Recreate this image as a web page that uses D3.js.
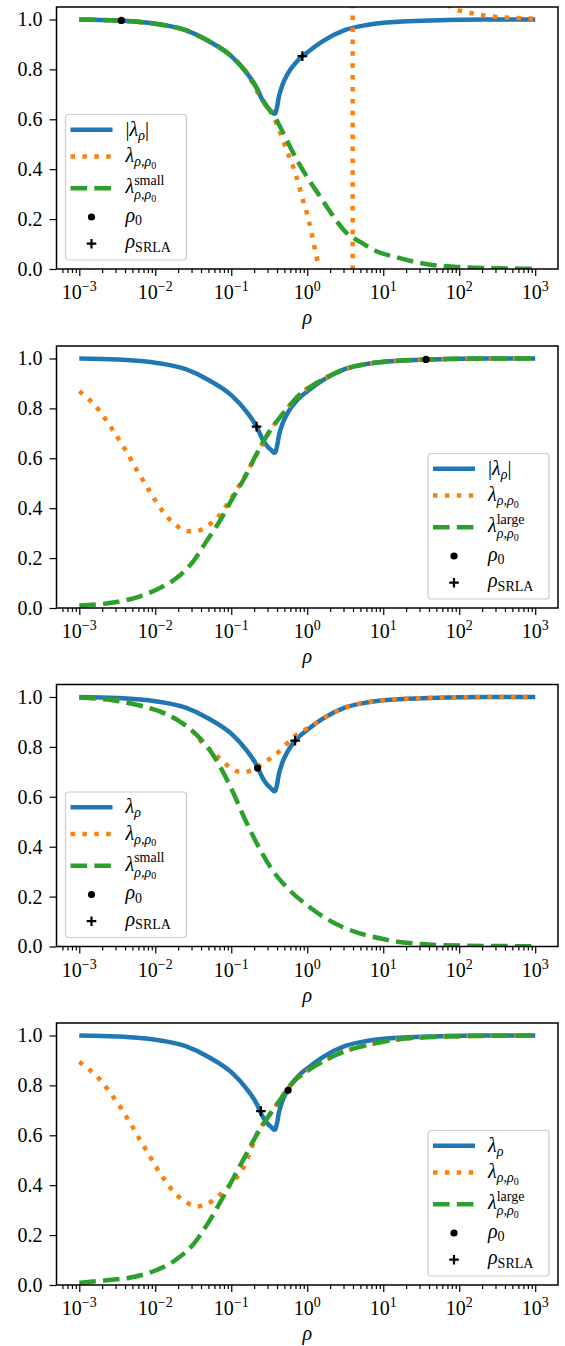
<!DOCTYPE html>
<html>
<head>
<meta charset="utf-8">
<script src="https://cdn.jsdelivr.net/npm/d3@7"></script>
<style>
  body { margin: 0; background: #fff; }
  text { font-family: "Liberation Serif", "DejaVu Serif", serif; }
</style>
</head>
<body>
<div id="dataviz"></div>
<script>
// every point is [log10(rho), value]

// |lambda_rho| : same curve in all four panels
const lamRho = [
  [-3.0, 1.000], [-2.5, 0.996], [-2.0, 0.983], [-1.6, 0.957], [-1.3, 0.914],
  [-1.0, 0.853], [-0.8, 0.787], [-0.667, 0.727], [-0.588, 0.676], [-0.52, 0.646],
  [-0.47, 0.632], [-0.435, 0.622], [-0.42, 0.624], [-0.40, 0.645], [-0.37, 0.695],
  [-0.33, 0.735], [-0.25, 0.786], [-0.15, 0.827], [-0.064, 0.853], [0.0, 0.868],
  [0.2, 0.912], [0.5, 0.958], [0.8, 0.979], [1.2, 0.991], [1.6, 0.996],
  [2.0, 0.999], [3.0, 1.000]
];

// panel 1
const p1Orange = [
  [-3.0, 1.000], [-2.0, 0.983], [-1.3, 0.914], [-1.0, 0.853], [-0.8, 0.787],
  [-0.6, 0.680], [-0.45, 0.615], [-0.38, 0.565], [-0.282, 0.485], [-0.151, 0.378],
  [-0.064, 0.284], [0.024, 0.190], [0.089, 0.096], [0.150, 0.003], [0.25, -0.25],
  [0.4, -0.9], [0.5, -2.5], [0.585, -15], [0.597, -80],
  [0.598, 80], [0.61, 15], [0.8, 3.0], [1.2, 1.5], [1.6, 1.15], [1.924, 1.044],
  [2.077, 1.031], [2.252, 1.020], [2.405, 1.013], [2.566, 1.009], [2.73, 1.006],
  [3.0, 1.004]
];
const p1Green = [
  [-3.0, 1.000], [-2.5, 0.996], [-2.0, 0.983], [-1.6, 0.957], [-1.3, 0.914],
  [-1.0, 0.853], [-0.8, 0.787], [-0.667, 0.725], [-0.588, 0.680], [-0.5, 0.638],
  [-0.42, 0.605], [-0.326, 0.551], [-0.195, 0.471], [-0.02, 0.377], [0.155, 0.297],
  [0.33, 0.217], [0.5, 0.150], [0.7, 0.108], [0.92, 0.070], [1.15, 0.049],
  [1.6, 0.018], [2.0, 0.008], [2.5, 0.003], [3.0, 0.001]
];

// panel 2
const p2Orange = [
  [-3.0, 0.869], [-2.76, 0.800], [-2.575, 0.720], [-2.40, 0.637], [-2.24, 0.552],
  [-2.073, 0.467], [-1.899, 0.386], [-1.72, 0.330], [-1.58, 0.308], [-1.46, 0.309],
  [-1.30, 0.332], [-1.16, 0.370], [-1.016, 0.433], [-0.85, 0.513], [-0.697, 0.597],
  [-0.5, 0.706], [-0.282, 0.793], [-0.107, 0.853], [0.2, 0.915], [0.8, 0.979],
  [1.6, 0.996], [3.0, 1.000]
];
const p2Green = [
  [-3.0, 0.010], [-2.6, 0.020], [-2.2, 0.047], [-1.94, 0.080], [-1.72, 0.120],
  [-1.5, 0.187], [-1.33, 0.266], [-1.156, 0.346], [-0.982, 0.440], [-0.828, 0.520],
  [-0.675, 0.613], [-0.5, 0.706], [-0.282, 0.793], [-0.107, 0.853], [0.0, 0.878],
  [0.2, 0.915], [0.5, 0.958], [0.8, 0.979], [1.2, 0.991], [1.6, 0.996],
  [2.0, 0.999], [3.0, 1.000]
];

// panel 3
const p3Orange = [
  [-3.0, 0.998], [-2.6, 0.989], [-2.25, 0.969], [-1.94, 0.942], [-1.68, 0.902],
  [-1.5, 0.860], [-1.372, 0.813], [-1.254, 0.782], [-1.136, 0.749], [-1.005, 0.715],
  [-0.855, 0.698], [-0.712, 0.709], [-0.57, 0.738], [-0.43, 0.765], [-0.31, 0.800],
  [-0.193, 0.836], [-0.075, 0.862], [0.05, 0.882], [0.2, 0.912], [0.5, 0.958],
  [0.8, 0.979], [1.2, 0.991], [1.6, 0.996], [2.0, 0.999], [3.0, 1.000]
];
const p3Green = [
  [-3.0, 0.998], [-2.6, 0.989], [-2.25, 0.969], [-1.94, 0.942], [-1.68, 0.902],
  [-1.46, 0.849], [-1.287, 0.789], [-1.113, 0.702], [-0.982, 0.621], [-0.806, 0.501],
  [-0.632, 0.395], [-0.457, 0.305], [-0.264, 0.235], [-0.03, 0.172], [0.207, 0.120],
  [0.45, 0.080], [0.68, 0.054], [1.0, 0.030], [1.15, 0.021], [1.5, 0.010],
  [2.0, 0.004], [3.0, 0.001]
];

// panel 4
const p4Orange = [
  [-3.0, 0.894], [-2.86, 0.861], [-2.742, 0.828], [-2.641, 0.790], [-2.545, 0.750],
  [-2.453, 0.710], [-2.366, 0.667], [-2.283, 0.626], [-2.204, 0.583], [-2.117, 0.540],
  [-2.038, 0.499], [-1.955, 0.456], [-1.864, 0.416], [-1.768, 0.376], [-1.645, 0.343],
  [-1.506, 0.319], [-1.43, 0.316], [-1.362, 0.319], [-1.222, 0.343], [-1.09, 0.379],
  [-0.972, 0.416], [-0.85, 0.463], [-0.74, 0.543], [-0.675, 0.597], [-0.523, 0.670],
  [-0.37, 0.737], [-0.195, 0.810], [0.0, 0.858], [0.2, 0.895], [0.5, 0.937],
  [1.0, 0.975], [1.7, 0.995], [3.0, 1.000]
];
const p4Green = [
  [-3.0, 0.009], [-2.64, 0.019], [-2.29, 0.032], [-1.99, 0.059], [-1.72, 0.103],
  [-1.5, 0.163], [-1.33, 0.236], [-1.156, 0.326], [-0.982, 0.423], [-0.828, 0.510],
  [-0.675, 0.597], [-0.523, 0.670], [-0.37, 0.737], [-0.195, 0.810], [0.0, 0.858],
  [0.2, 0.895], [0.5, 0.937], [0.7, 0.955], [1.0, 0.975], [1.3, 0.988],
  [1.7, 0.995], [2.2, 0.998], [3.0, 1.000]
];

// rho_0 (dot) and rho_SRLA (plus) per panel
const rho0Points = [[-2.447, 0.996], [1.563, 0.996], [-0.654, 0.715], [-0.252, 0.780]];
const srlaPoints = [[-0.064, 0.853], [-0.667, 0.727], [-0.16, 0.825], [-0.61, 0.697]];

const xTickExp = [-3, -2, -1, 0, 1, 2, 3];
const yTicks = [0, 0.2, 0.4, 0.6, 0.8, 1.0];

const panels = [
  { orange: p1Orange, green: p1Green, abs: true,  sup: "small", legend: "left" },
  { orange: p2Orange, green: p2Green, abs: true,  sup: "large", legend: "right" },
  { orange: p3Orange, green: p3Green, abs: false, sup: "small", legend: "left" },
  { orange: p4Orange, green: p4Green, abs: false, sup: "large", legend: "right" }
];

const C = { blue: "#1f77b4", orange: "#ff7f0e", green: "#2ca02c" };
const LW = 4.5;
const DOT = "4.5,7.4", DASH = "16.6,7.2";
const FS = 20;

const W = 565, H = 1346;
const left = 56.5, plotW = 501.5, plotH = 262;
const panelTops = [7, 346, 684.5, 1023];

const svg = d3.select("#dataviz").append("svg")
    .attr("width", W)
    .attr("height", H);

// draws a small piece of math as a row of text bits
function mathText(sel, x, y, parts) {
    let cx = x, prevX = x;
    parts.forEach(p => {
        const px = p.stack ? prevX : cx;
        const t = sel.append("text")
            .attr("x", px)
            .attr("y", y + (p.dy || 0))
            .attr("font-size", FS * (p.s || 1))
            .attr("font-style", p.it ? "italic" : "normal")
            .text(p.t);
        const w = t.node().getComputedTextLength();
        prevX = px;
        cx = px + w + (p.kern || 0);
    });
}

function drawPlus(sel, cx, cy, r) {
    sel.append("path")
        .attr("d", `M${cx - r},${cy}H${cx + r}M${cx},${cy - r}V${cy + r}`)
        .attr("stroke", "black")
        .attr("stroke-width", 2.2);
}

panels.forEach((p, i) => {
    const g = svg.append("g")
        .attr("transform", `translate(${left}, ${panelTops[i]})`);

    const x = d3.scaleLog().domain([10 ** -3.3, 10 ** 3.3]).range([0, plotW]);
    const y = d3.scaleLinear().domain([0, 1.05]).range([plotH, 0]);

    g.append("clipPath").attr("id", "clip" + i)
        .append("rect").attr("width", plotW).attr("height", plotH);

    const line = d3.line()
        .x(d => x(10 ** d[0]))
        .y(d => y(d[1]))
        .curve(d3.curveMonotoneX);

    const plot = g.append("g").attr("clip-path", `url(#clip${i})`);

    plot.append("path").datum(lamRho)
        .attr("d", line).attr("fill", "none")
        .attr("stroke", C.blue).attr("stroke-width", LW);
    plot.append("path").datum(p.orange)
        .attr("d", line).attr("fill", "none")
        .attr("stroke", C.orange).attr("stroke-width", LW)
        .attr("stroke-dasharray", DOT);
    plot.append("path").datum(p.green)
        .attr("d", line).attr("fill", "none")
        .attr("stroke", C.green).attr("stroke-width", LW)
        .attr("stroke-dasharray", DASH);

    // markers
    const r0 = rho0Points[i], rs = srlaPoints[i];
    g.append("circle")
        .attr("cx", x(10 ** r0[0])).attr("cy", y(r0[1]))
        .attr("r", 3.6).attr("fill", "black");
    drawPlus(g, x(10 ** rs[0]), y(rs[1]), 4.8);

    // x axis: major + minor ticks
    const majors = xTickExp.map(e => 10 ** e);
    const minors = [];
    for (let e = -4; e <= 3; e++) {
        for (let m = 2; m <= 9; m++) {
            const v = m * 10 ** e;
            if (v >= 10 ** -3.3 && v <= 10 ** 3.3) minors.push(v);
        }
    }
    const xa = g.append("g").attr("transform", `translate(0,${plotH})`)
        .call(d3.axisBottom(x).tickValues(majors).tickSize(7).tickFormat(""));
    xa.select(".domain").remove();
    const xm = g.append("g").attr("transform", `translate(0,${plotH})`)
        .call(d3.axisBottom(x).tickValues(minors).tickSize(4).tickFormat(""));
    xm.select(".domain").remove();
    g.selectAll(".tick line").attr("stroke-width", 1.2);

    xTickExp.forEach(e => {
        const t = g.append("text")
            .attr("x", x(10 ** e))
            .attr("y", plotH + 30)
            .attr("text-anchor", "middle")
            .attr("font-size", FS);
        t.append("tspan").text("10");
        t.append("tspan").attr("dy", -8).attr("font-size", FS * 0.7)
            .text(e < 0 ? "\u2212" + (-e) : String(e));
    });

    g.append("text")
        .attr("x", plotW / 2)
        .attr("y", plotH + 55)
        .attr("text-anchor", "middle")
        .attr("font-size", FS)
        .attr("font-style", "italic")
        .text("\u03c1");

    // y axis
    const ya = g.append("g")
        .call(d3.axisLeft(y).tickValues(yTicks).tickSize(7).tickPadding(7)
            .tickFormat(d3.format(".1f")));
    ya.select(".domain").remove();
    ya.selectAll("text")
        .attr("font-family", "Liberation Serif, DejaVu Serif, serif")
        .attr("font-size", FS)
        .attr("fill", "black");
    ya.selectAll(".tick line").attr("stroke-width", 1.2);

    // frame
    g.append("rect")
        .attr("width", plotW).attr("height", plotH)
        .attr("fill", "none").attr("stroke", "black").attr("stroke-width", 1.5);

    // legend
    const lw = 121, lh = 145.5;
    const lx = p.legend === "left" ? 9 : plotW - 9 - lw;
    const ly = plotH - 9 - lh;
    const lg = g.append("g").attr("transform", `translate(${lx},${ly})`);
    lg.append("rect")
        .attr("width", lw).attr("height", lh).attr("rx", 3)
        .attr("fill", "white").attr("fill-opacity", 0.8)
        .attr("stroke", "#cccccc").attr("stroke-width", 1.2);

    const rows = [15.3, 42, 73.8, 102.5, 129.2];
    const hx0 = 5, hx1 = 47, tx = 60;
    lg.append("line").attr("x1", hx0).attr("x2", hx1).attr("y1", rows[0]).attr("y2", rows[0])
        .attr("stroke", C.blue).attr("stroke-width", LW);
    lg.append("line").attr("x1", hx0).attr("x2", hx1).attr("y1", rows[1]).attr("y2", rows[1])
        .attr("stroke", C.orange).attr("stroke-width", LW).attr("stroke-dasharray", DOT);
    lg.append("line").attr("x1", hx0).attr("x2", hx1).attr("y1", rows[2]).attr("y2", rows[2])
        .attr("stroke", C.green).attr("stroke-width", LW).attr("stroke-dasharray", DASH);
    lg.append("circle").attr("cx", 26).attr("cy", rows[3]).attr("r", 3.6).attr("fill", "black");
    drawPlus(lg, 26, rows[4], 4.8);

    const blueParts = p.abs
        ? [{ t: "|" }, { t: "\u03bb", it: true }, { t: "\u03c1", it: true, s: 0.7, dy: 4 }, { t: "|", dy: 0 }]
        : [{ t: "\u03bb", it: true }, { t: "\u03c1", it: true, s: 0.7, dy: 4 }];
    mathText(lg, tx, rows[0] + 6, blueParts);
    mathText(lg, tx, rows[1] + 5.5, [
        { t: "\u03bb", it: true },
        { t: "\u03c1,\u03c1", it: true, s: 0.7, dy: 4 },
        { t: "0", s: 0.5, dy: 6.5 }
    ]);
    mathText(lg, tx, rows[2] + 5, [
        { t: "\u03bb", it: true },
        { t: p.sup, s: 0.7, dy: -8.5 },
        { t: "\u03c1,\u03c1", it: true, s: 0.7, dy: 6, stack: true },
        { t: "0", s: 0.5, dy: 8.5 }
    ]);
    mathText(lg, tx, rows[3] + 4.5, [
        { t: "\u03c1", it: true },
        { t: "0", s: 0.7, dy: 3.5 }
    ]);
    mathText(lg, tx, rows[4] + 4.5, [
        { t: "\u03c1", it: true },
        { t: "SRLA", s: 0.7, dy: 3.5 }
    ]);
});
</script>
</body>
</html>
